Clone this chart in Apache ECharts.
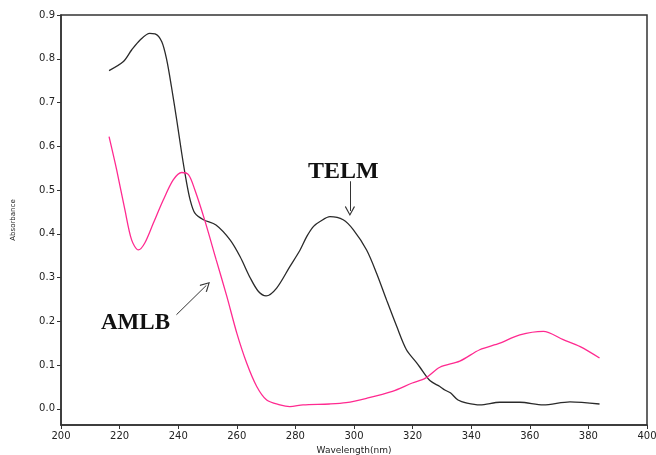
<!DOCTYPE html>
<html>
<head>
<meta charset="utf-8">
<script src="https://cdn.jsdelivr.net/npm/echarts@6/dist/echarts.min.js"></script>
<style>
  html, body { margin: 0; padding: 0; background: #fff; }
  #main { width: 656px; height: 455px; }
</style>
</head>
<body>
<div id="main"></div>
<script>
// 初始化图表
var myChart = echarts.init(document.getElementById('main'));

// TELM 吸收曲线 (波长 nm, 吸光度)
var telmWl = [216.4, 221.2, 224.1, 227.0, 230.3, 232.1, 234.4, 236.1, 237.7, 239.5,
  241.2, 242.7, 244.1, 245.7, 248.6, 252.9, 257.7, 261.1, 264.6, 267.4,
  270.0, 273.6, 278.1, 281.6, 283.9, 286.2, 288.4, 291.8, 296.3, 299.8,
  304.3, 307.7, 311.1, 314.6, 317.9, 321.4, 322.5, 326.0, 329.3, 331.0,
  333.0, 335.5, 338.6, 343.0, 349.8, 356.6, 364.6, 373.7, 383.8];
var telmAbs = [0.773, 0.793, 0.82, 0.843, 0.858, 0.857, 0.839, 0.797, 0.736, 0.66,
  0.584, 0.523, 0.477, 0.447, 0.432, 0.42, 0.386, 0.348, 0.299, 0.268,
  0.258, 0.276, 0.325, 0.363, 0.394, 0.417, 0.428, 0.439, 0.432, 0.409,
  0.363, 0.31, 0.249, 0.188, 0.135, 0.105, 0.095, 0.064, 0.051, 0.043,
  0.036, 0.02, 0.013, 0.009, 0.015, 0.015, 0.009, 0.016, 0.011];

// AMLB 吸收曲线
var amlbWl = [216.4, 219.0, 221.8, 224.1, 226.4, 228.6, 231.5, 234.9, 238.3, 241.2,
  243.5, 245.7, 249.1, 252.9, 256.6, 260.0, 263.4, 266.8, 270.2, 274.7,
  278.1, 282.6, 291.6, 297.3, 304.3, 313.1, 319.9, 324.4, 329.3, 336.1,
  342.9, 349.8, 356.6, 364.6, 371.4, 377.2, 383.8];
var amlbAbs = [0.622, 0.546, 0.455, 0.386, 0.363, 0.379, 0.424, 0.477, 0.523, 0.54,
  0.535, 0.5, 0.43, 0.342, 0.257, 0.173, 0.104, 0.051, 0.02, 0.009,
  0.005, 0.009, 0.011, 0.014, 0.024, 0.04, 0.059, 0.07, 0.095, 0.109,
  0.135, 0.15, 0.169, 0.177, 0.158, 0.142, 0.116];

var yTicks = [0, 0.1, 0.2, 0.3, 0.4, 0.5, 0.6, 0.7, 0.8, 0.9];

var telmData = telmWl.map(function (e, i) { return [e, telmAbs[i]]; });
var amlbData = amlbWl.map(function (e, i) { return [e, amlbAbs[i]]; });

// 空心箭头
var arrowHead = 'path://M0,0 L6,9 L5,10 L0,2.2 L-5,10 L-6,9 Z';

var option = {
  animation: false,
  grid: {
    left: 61, right: 9, top: 15, bottom: 30,
    outerBoundsMode: 'none',
    show: true, borderColor: '#333', borderWidth: 1.5
  },
  xAxis: {
    type: 'value',
    min: 200, max: 400, interval: 20,
    name: 'Wavelength(nm)',
    nameLocation: 'middle',
    nameGap: 20,
    nameTextStyle: { fontSize: 9, color: '#222', fontFamily: 'DejaVu Sans' },
    axisLine: { onZero: false, lineStyle: { color: '#333', width: 1.5 } },
    axisTick: { show: true, length: 4, lineStyle: { color: '#333' } },
    axisLabel: { fontSize: 10, color: '#222', margin: 6, fontFamily: 'DejaVu Sans' },
    splitLine: { show: false }
  },
  yAxis: {
    type: 'value',
    min: -0.037, max: 0.9,
    name: 'Absorbance',
    nameLocation: 'middle',
    nameGap: 44,
    nameRotate: 90,
    nameTextStyle: { fontSize: 7, color: '#222', fontFamily: 'DejaVu Sans' },
    axisLine: { onZero: false, lineStyle: { color: '#333', width: 1.5 } },
    axisTick: { show: true, length: 4, customValues: yTicks, lineStyle: { color: '#333' } },
    axisLabel: {
      fontSize: 10, color: '#222', margin: 6, fontFamily: 'DejaVu Sans',
      customValues: yTicks,
      formatter: function (v) { return v.toFixed(1); }
    },
    splitLine: { show: false }
  },
  series: [
    {
      name: 'TELM',
      type: 'line',
      data: telmData,
      smooth: 0.3,
      showSymbol: false,
      lineStyle: { color: '#2a2a2a', width: 1.3 },
      markLine: {
        silent: true,
        symbol: ['none', arrowHead],
        symbolSize: [10, 10],
        label: { show: false },
        lineStyle: { color: '#333', width: 1, type: 'solid' },
        data: [
          [{ coord: [298.6, 0.52] }, { coord: [298.6, 0.452] }],
          [{ coord: [239.4, 0.215] }, { coord: [249.6, 0.282] }]
        ]
      }
    },
    {
      name: 'AMLB',
      type: 'line',
      data: amlbData,
      smooth: 0.3,
      showSymbol: false,
      lineStyle: { color: '#ff2a90', width: 1.3 }
    }
  ],
  graphic: [
    {
      type: 'text', left: 308, top: 160,
      style: { text: 'TELM', font: 'bold 24px "Liberation Serif"', fill: '#111' }
    },
    {
      type: 'text', left: 101, top: 312,
      style: { text: 'AMLB', font: 'bold 23px "Liberation Serif"', fill: '#111' }
    }
  ]
};

myChart.setOption(option);
</script>
</body>
</html>
